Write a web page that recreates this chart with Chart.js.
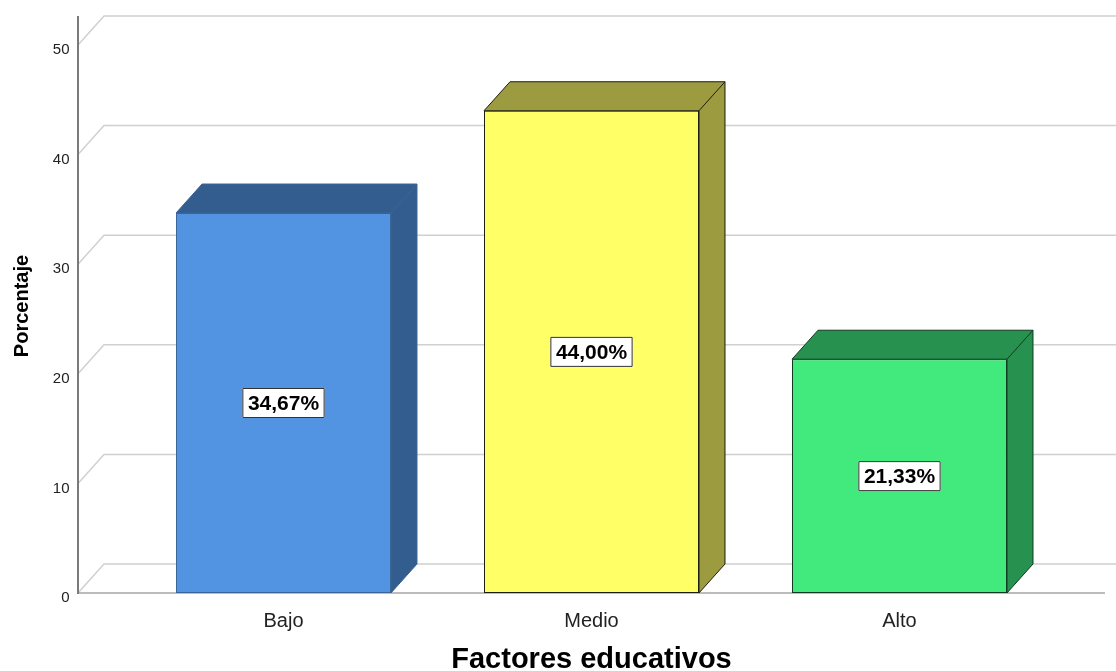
<!DOCTYPE html>
<html>
<head>
<meta charset="utf-8">
<script src="https://cdn.jsdelivr.net/npm/chart.js@4/dist/chart.umd.min.js"></script>
<style>
  body { margin: 0; background: #fff; }
  #wrap { width: 1116px; height: 671px; }
</style>
</head>
<body>
<div id="wrap"><canvas id="myChart" width="1116" height="671"></canvas></div>
<script>
// data
const categories = ['Bajo', 'Medio', 'Alto'];
const percentages = [34.67, 44.00, 21.33];
const yTicks = [0, 10, 20, 30, 40, 50];

// colours of front face / top+side faces / edges
const frontColors = ['#5294e2', '#ffff66', '#42e97d'];
const sideColors = ['#345d8f', '#9c9b3f', '#279150'];
const edgeColors = ['#3a6598', '#1e1e10', '#123a20'];

const FONT = '"Liberation Sans", Arial, sans-serif';
const depth = { x: 26, y: 29 };
const axisLeft = 78;

// fake 3d: back walls, floor, axis line, bar tops/sides and value boxes
const box3d = {
  id: 'box3d',
  beforeDatasetsDraw(chart) {
    const ctx = chart.ctx;
    const y = chart.scales.y;
    const right = chart.width;
    const y0 = y.getPixelForValue(0);
    ctx.save();
    ctx.lineWidth = 1.5;
    ctx.strokeStyle = '#d0d0d0';
    yTicks.forEach(v => {
      const py = y.getPixelForValue(v);
      ctx.beginPath();
      ctx.moveTo(axisLeft, py);
      ctx.lineTo(axisLeft + depth.x, py - depth.y);
      ctx.lineTo(right, py - depth.y);
      ctx.stroke();
    });
    ctx.strokeStyle = '#a6a6a6';
    ctx.beginPath();
    ctx.moveTo(axisLeft, y0);
    ctx.lineTo(right - 11, y0);
    ctx.stroke();
    ctx.strokeStyle = '#7a7a7a';
    ctx.lineWidth = 2;
    ctx.beginPath();
    ctx.moveTo(axisLeft, y.getPixelForValue(yTicks[yTicks.length - 1]) - depth.y);
    ctx.lineTo(axisLeft, y0 + 1);
    ctx.stroke();

    // y title sits a bit above the middle of the plot in the original
    ctx.translate(22, (y.top + y.bottom) / 2 - 13);
    ctx.rotate(-Math.PI / 2);
    ctx.font = 'bold 20px ' + FONT;
    ctx.fillStyle = '#000';
    ctx.textAlign = 'center';
    ctx.textBaseline = 'middle';
    ctx.fillText('Porcentaje', 0, 0);
    ctx.restore();
  },
  afterDatasetsDraw(chart) {
    const ctx = chart.ctx;
    const meta = chart.getDatasetMeta(0);
    meta.data.forEach((bar, i) => {
      const half = bar.width / 2;
      const l = bar.x - half, r = bar.x + half, t = bar.y, b = bar.base;
      ctx.save();
      ctx.fillStyle = sideColors[i];
      ctx.strokeStyle = edgeColors[i];
      ctx.lineWidth = 1;
      ctx.lineJoin = 'round';
      ctx.beginPath();
      ctx.moveTo(l, t);
      ctx.lineTo(l + depth.x, t - depth.y);
      ctx.lineTo(r + depth.x, t - depth.y);
      ctx.lineTo(r + depth.x, b - depth.y);
      ctx.lineTo(r, b);
      ctx.lineTo(r, t);
      ctx.closePath();
      ctx.fill();
      ctx.stroke();
      ctx.beginPath();
      ctx.moveTo(r, t);
      ctx.lineTo(r + depth.x, t - depth.y);
      ctx.stroke();

      // value box
      const text = percentages[i].toFixed(2).replace('.', ',') + '%';
      ctx.font = 'bold 21px ' + FONT;
      const w = ctx.measureText(text).width + 11;
      const h = 30;
      const cy = (t + b) / 2;
      ctx.fillStyle = '#fff';
      ctx.strokeStyle = '#333';
      ctx.fillRect(bar.x - w / 2, cy - h / 2, w, h);
      ctx.strokeRect(bar.x - w / 2 + 0.5, cy - h / 2 + 0.5, w - 1, h - 1);
      ctx.fillStyle = '#000';
      ctx.textAlign = 'center';
      ctx.textBaseline = 'middle';
      ctx.fillText(text, bar.x, cy + 1);
      ctx.restore();
    });
  }
};

const ctx = document.getElementById('myChart').getContext('2d');
new Chart(ctx, {
  type: 'bar',
  data: {
    labels: categories,
    datasets: [{
      data: percentages,
      backgroundColor: frontColors,
      borderColor: edgeColors,
      borderWidth: 1,
      borderSkipped: false,
      categoryPercentage: 1,
      barPercentage: 0.698
    }]
  },
  options: {
    responsive: false,
    animation: false,
    layout: { padding: { top: 45, right: 62.5, left: 0, bottom: 0 } },
    plugins: { legend: { display: false }, tooltip: { enabled: false } },
    scales: {
      x: {
        grid: { display: false },
        border: { display: false },
        ticks: { color: '#222', font: { size: 20, family: FONT }, padding: 8 },
        title: {
          display: true, text: 'Factores educativos', color: '#000',
          font: { size: 29, weight: 'bold', family: FONT },
          padding: { top: 0, bottom: -6 }
        },
        afterFit(s) { s.height = 78; }
      },
      y: {
        min: yTicks[0],
        max: yTicks[yTicks.length - 1],
        ticks: { stepSize: 10, color: '#222', font: { size: 15, family: FONT }, padding: 52, labelOffset: 5 },
        grid: { display: false },
        border: { display: false },
        afterFit(s) {
          // the big tick padding would otherwise push the plot down
          s.width = 129.5;
          s.paddingTop = 0;
          s.paddingBottom = 0;
        }
      }
    }
  },
  plugins: [box3d]
});
</script>
</body>
</html>
